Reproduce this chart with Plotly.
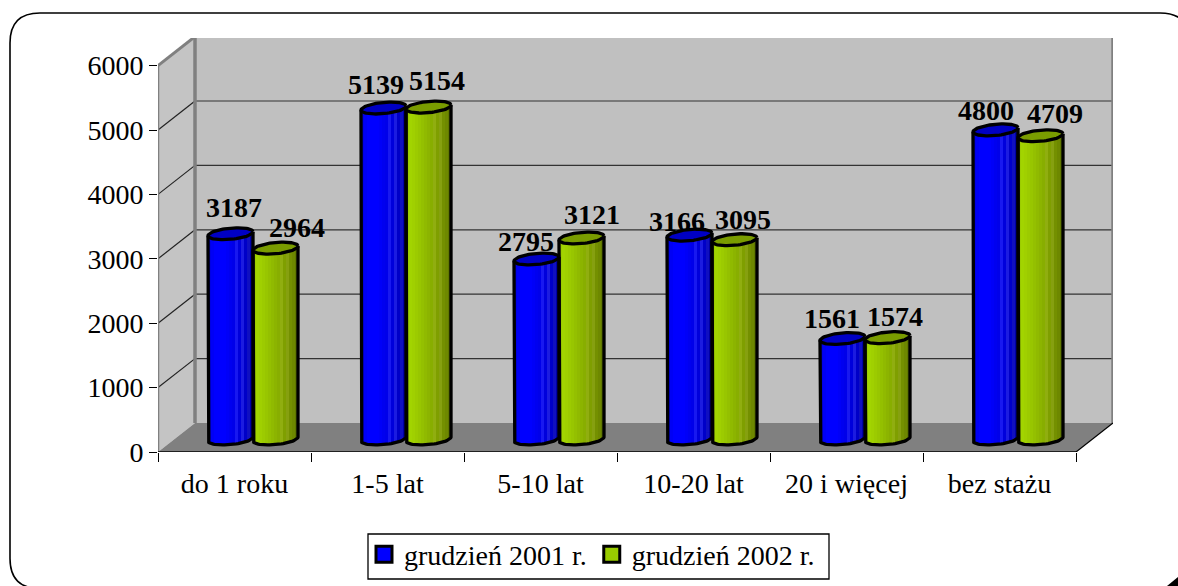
import math
import plotly.graph_objects as go

# ---- data ----
categories = ["do 1 roku", "1-5 lat", "5-10 lat", "10-20 lat", "20 i więcej", "bez stażu"]
series_2001 = [3187, 5139, 2795, 3166, 1561, 4800]
series_2002 = [2964, 5154, 3121, 3095, 1574, 4709]
series_names = ["grudzień 2001 r.", "grudzień 2002 r."]
y_ticks = [0, 1000, 2000, 3000, 4000, 5000, 6000]

# ---- figure geometry (pixels) ----
W, H = 1178, 586
X0, CAT_PX = 158.0, 153.0      # front axis origin, width of a category
Y0, KPX = 452.0, 64.4          # front zero line, pixels per 1000
DX_PX, DY_PX = 37.0, 29.0      # depth of the 3D box
XR, YT = X0 + 6 * CAT_PX + DX_PX, 38.0

px_x = 1.0 / CAT_PX
px_y = 1000.0 / KPX
depth_x, depth_y = DX_PX * px_x, DY_PX * px_y

# ---- label nudges (pixels), style only ----
label_dx_1 = [3, -8, -11, -13, -11, -10]
label_dy_1 = [26, 24, 18, 14, 20, 19]
label_dx_2 = [21, 8, 10, 8, 7, 14]
label_dy_2 = [21, 27, 24, 20, 21, 22]

# ---- cylinder styling ----
BAR_PX = 45.0
A_PX, B_PX, TILT_PX = 22.5, 5.6, 2.0
STRIP_PX = 3.0
OUTLINE = 3.3
base_val = 13.0 * px_y
blue_strips = ["#0000e6", "#0000f5", "#0000ff", "#0000ff", "#0000ff", "#0000ff", "#0000f8", "#0000f0",
               "#0000ea", "#1818f0", "#0000dc", "#1c1ce0", "#0000c8", "#1010c0", "#0000a8"]
green_strips = ["#9ccc00", "#a2d400", "#a0d000", "#9ccb00", "#98c600", "#94c000", "#90ba00", "#8cb400",
                "#88ae00", "#90ae10", "#7f9f00", "#86a010", "#749000", "#6e8800", "#607800"]
blue_top, green_top = "#0000c4", "#7a9c00"


def cylinder_traces(values, side, strips, top_color, name):
    n = len(strips)
    xs, ys, bases, colors = [], [], [], []
    for i, v in enumerate(values):
        cx = i + 0.5 + depth_x / 2 + side * BAR_PX / 2 * px_x
        for k in range(n):
            t = -1 + (2 * k + 1) / n
            off = -B_PX * math.sqrt(1 - t * t) + TILT_PX * t
            b = base_val + off * px_y
            top = base_val + v + TILT_PX * t * px_y
            xs.append(cx + t * A_PX * px_x)
            bases.append(b)
            ys.append(top - b)
            colors.append(strips[k])
    traces = [go.Bar(x=xs, y=ys, base=bases, width=STRIP_PX * px_x, marker=dict(color=colors, line=dict(width=0)),
                     showlegend=False, hoverinfo="skip", name=name)]
    for i, v in enumerate(values):
        cx = i + 0.5 + depth_x / 2 + side * BAR_PX / 2 * px_x
        # side and bottom outline
        ox, oy = [cx - A_PX * px_x], [base_val + v - TILT_PX * px_y]
        for a in range(0, 37):
            th = math.pi * a / 36
            ox.append(cx - math.cos(th) * A_PX * px_x)
            oy.append(base_val + (-B_PX * math.sin(th) - TILT_PX * math.cos(th)) * px_y)
        ox.append(cx + A_PX * px_x)
        oy.append(base_val + v + TILT_PX * px_y)
        traces.append(go.Scatter(x=ox, y=oy, mode="lines", line=dict(color="black", width=OUTLINE),
                                 showlegend=False, hoverinfo="skip"))
        # top ellipse
        ex, ey = [], []
        for a in range(0, 73):
            th = 2 * math.pi * a / 72
            ex.append(cx + math.cos(th) * A_PX * px_x)
            ey.append(base_val + v + (B_PX * math.sin(th) + TILT_PX * math.cos(th)) * px_y)
        traces.append(go.Scatter(x=ex, y=ey, mode="lines", fill="toself", fillcolor=top_color,
                                 line=dict(color="black", width=OUTLINE), showlegend=False, hoverinfo="skip"))
    return traces


fig = go.Figure()
for tr in cylinder_traces(series_2001, -1, blue_strips, blue_top, series_names[0]):
    fig.add_trace(tr)
for tr in cylinder_traces(series_2002, 1, green_strips, green_top, series_names[1]):
    fig.add_trace(tr)

# legend entries
fig.add_trace(go.Scatter(x=[None], y=[None], mode="markers", name=series_names[0],
                         marker=dict(symbol="square", size=16, color="#0000ff", line=dict(color="black", width=3))))
fig.add_trace(go.Scatter(x=[None], y=[None], mode="markers", name=series_names[1],
                         marker=dict(symbol="square", size=16, color="#99cc00", line=dict(color="black", width=3))))

# category labels on a second, tick-less axis
fig.add_trace(go.Scatter(x=[i + 0.5 for i in range(6)], y=[0] * 6, xaxis="x2", mode="markers",
                         marker=dict(opacity=0), showlegend=False, hoverinfo="skip"))

top_v = (Y0 - YT) * px_y
shapes = []


def poly(pts, fill, layer="below"):
    d = "M" + " L".join(f"{x},{y}" for x, y in pts) + " Z"
    shapes.append(dict(type="path", path=d, xref="x", yref="y", fillcolor=fill, line=dict(width=0), layer=layer))


def seg(x0, y0, x1, y1, color, width):
    shapes.append(dict(type="line", x0=x0, y0=y0, x1=x1, y1=y1, xref="x", yref="y",
                       line=dict(color=color, width=width), layer="below"))


back_l, back_r = depth_x, 6 + depth_x
poly([(back_l, depth_y), (back_r, depth_y), (back_r, 6000 + depth_y), (back_l, 6000 + depth_y)], "#c0c0c0")
poly([(0, 0), (back_l, depth_y), (back_l, 6000 + depth_y), (0, 6000)], "#c4c4c4")
poly([(0, 0), (6, 0), (back_r, depth_y), (back_l, depth_y)], "#808080")
for v in y_ticks[1:-1]:
    seg(0, v, back_l, v + depth_y, "#222222", 1.2)
    seg(back_l, v + depth_y, back_r, v + depth_y, "#333333", 1.2)
GREY = "#808080"
seg(0, 0, 0, 6000, GREY, 2.5)
seg(0, 6000, back_l, 6000 + depth_y, GREY, 3)
seg(back_l, 6000 + depth_y, back_r, 6000 + depth_y, GREY, 3)
seg(back_l, depth_y, back_l, 6000 + depth_y, GREY, 3.5)
seg(back_r, depth_y, back_r, 6000 + depth_y, GREY, 3.5)
seg(0, 0, 6, 0, "black", 1.5)
seg(6, 0, back_r, depth_y, "black", 1.2)

# rounded outer frame and the clipped shadow corner
FL, FT, FR, FB, R = 10, 13, 1190, 588.5, 30
def fx(p): return p / W
def fy(p): return 1 - p / H
frame = (f"M{fx(FL)},{fy(FT+R)} Q{fx(FL)},{fy(FT)} {fx(FL+R)},{fy(FT)} L{fx(FR-R)},{fy(FT)} "
         f"Q{fx(FR)},{fy(FT)} {fx(FR)},{fy(FT+R)} L{fx(FR)},{fy(FB-R)} Q{fx(FR)},{fy(FB)} {fx(FR-R)},{fy(FB)} "
         f"L{fx(FL+R)},{fy(FB)} Q{fx(FL)},{fy(FB)} {fx(FL)},{fy(FB-R)} Z")
shapes.append(dict(type="path", path=frame, xref="paper", yref="paper", line=dict(color="black", width=1.6), layer="below"))
shapes.append(dict(type="path", path=f"M{fx(1167)},{fy(586)} L{fx(1178)},{fy(577)} L{fx(1178)},{fy(586)} Z",
                   xref="paper", yref="paper", fillcolor="black", line=dict(width=0), layer="below"))
# legend box
shapes.append(dict(type="rect", x0=fx(368), x1=fx(829), y0=fy(579), y1=fy(534), xref="paper", yref="paper",
                   fillcolor="white", line=dict(color="black", width=1.3), layer="below"))

annotations = []
FONT = "Liberation Serif, Times New Roman, serif"
for vals, side, dxs, dys in ((series_2001, -1, label_dx_1, label_dy_1), (series_2002, 1, label_dx_2, label_dy_2)):
    for i, v in enumerate(vals):
        annotations.append(dict(
            x=i + 0.5 + depth_x / 2 + side * BAR_PX / 2 * px_x, y=base_val + v, text=f"<b>{v}</b>",
            showarrow=False, xshift=dxs[i], yshift=dys[i], xanchor="center", yanchor="middle",
            font=dict(family=FONT, size=28, color="black")))

fig.update_layout(
    width=W, height=H, margin=dict(l=0, r=0, t=0, b=0, pad=0, autoexpand=False),
    paper_bgcolor="white", plot_bgcolor="rgba(0,0,0,0)",
    barmode="overlay", bargap=0,
    font=dict(family=FONT, size=28, color="black"),
    shapes=shapes, annotations=annotations, hovermode=False,
    xaxis=dict(domain=[X0 / W, XR / W], range=[0, 6 + depth_x], tickmode="array", tickvals=list(range(7)),
               ticktext=[""] * 7, ticks="outside", ticklen=9, tickwidth=1.2, tickcolor="black",
               showgrid=False, zeroline=False, showline=False, fixedrange=True),
    xaxis2=dict(domain=[X0 / W, XR / W], range=[0, 6 + depth_x], overlaying="x", anchor="y", side="bottom",
                tickmode="array", tickvals=[i + 0.5 for i in range(6)], ticktext=categories, ticks="",
                ticklabelstandoff=12, showgrid=False, zeroline=False, showline=False, fixedrange=True,
                tickfont=dict(family=FONT, size=28)),
    yaxis=dict(domain=[(H - Y0) / H, (H - YT) / H], range=[0, top_v], tickmode="array", tickvals=y_ticks,
               ticks="outside", ticklen=8, tickwidth=1.2, tickcolor="black", showgrid=False, zeroline=False,
               showline=False, fixedrange=True, tickfont=dict(family=FONT, size=28), ticklabelstandoff=0),
    legend=dict(orientation="h", x=364 / W, y=(H - 529.5) / H, xanchor="left", yanchor="top",
                bgcolor="rgba(0,0,0,0)", borderwidth=0, font=dict(family=FONT, size=28),
                itemclick=False, itemdoubleclick=False),
)

fig.write_html("out.html", post_script="document.body.style.margin='0';", config={"displayModeBar": False})
